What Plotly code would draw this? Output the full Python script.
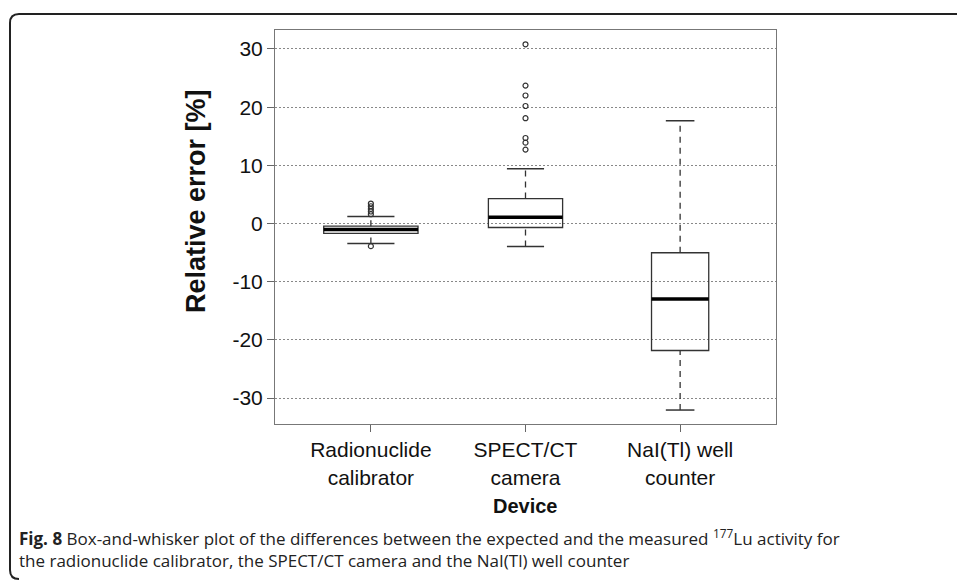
import plotly.graph_objects as go

# ---- data ----
categories = ["Radionuclide<br>calibrator", "SPECT/CT<br>camera", "NaI(Tl) well<br>counter"]
q1 = [-1.71, -0.69, -21.83]
median = [-1.03, 1.08, -12.97]
q3 = [-0.46, 4.29, -5.03]
lower_whisker = [-3.43, -3.94, -32.06]
upper_whisker = [1.20, 9.43, 17.66]
outliers_radionuclide = [3.43, 2.97, 2.51, 2.06, 1.60, -3.89]
outliers_spect = [30.8, 23.7, 22.0, 20.2, 18.1, 14.7, 13.9, 12.7]
outliers_nai = []
y_ticks = [-30, -20, -10, 0, 10, 20, 30]
y_tick_labels = ["-30", "-20", "-10", "0", "10", "20", "30"]

# ---- style ----
BOX_W = [0.61, 0.48, 0.37]   # varwidth-style box widths (x units)
LINE_C = "#333333"
W, H = 957, 581
L, R, T, B = 275, 776, 30, 424

fig = go.Figure()
outliers = [outliers_radionuclide, outliers_spect, outliers_nai]
positions = [1, 2, 3]

for i, pos in enumerate(positions):
    w = BOX_W[i]
    fig.add_trace(go.Box(
        x=[pos], q1=[q1[i]], median=[median[i]], q3=[q3[i]],
        lowerfence=[q1[i]], upperfence=[q3[i]],
        width=w, fillcolor="rgba(0,0,0,0)",
        line=dict(color=LINE_C, width=1.3), boxpoints=False,
        showlegend=False, hoverinfo="skip"))
    # dashed whiskers
    for a, b in [(q3[i], upper_whisker[i]), (lower_whisker[i], q1[i])]:
        fig.add_trace(go.Scatter(x=[pos, pos], y=[a, b], mode="lines",
                                 line=dict(color=LINE_C, width=1.3, dash="6px,5px"),
                                 showlegend=False, hoverinfo="skip"))
    # staples
    for v in [upper_whisker[i], lower_whisker[i]]:
        fig.add_trace(go.Scatter(x=[pos - w / 4, pos + w / 4], y=[v, v], mode="lines",
                                 line=dict(color=LINE_C, width=1.5),
                                 showlegend=False, hoverinfo="skip"))
    # thick median
    fig.add_trace(go.Scatter(x=[pos - w / 2, pos + w / 2], y=[median[i], median[i]],
                             mode="lines", line=dict(color="black", width=3.5),
                             showlegend=False, hoverinfo="skip"))
    # outliers
    if outliers[i]:
        fig.add_trace(go.Scatter(x=[pos] * len(outliers[i]), y=outliers[i], mode="markers",
                                 marker=dict(symbol="circle-open", size=5,
                                             color=LINE_C, line=dict(width=1.2)),
                                 showlegend=False, hoverinfo="skip"))

pw, ph = R - L, B - T
def px(x):
    return (x - L) / pw
def py(y):
    return (B - y) / ph

# outer frame with rounded left corners
r = 9
x0, y0, y1, x1 = 10, 14, 579, W + 5
path = (f"M {px(x0 + r)},{py(y1)} Q {px(x0)},{py(y1)} {px(x0)},{py(y1 - r)} "
        f"L {px(x0)},{py(y0 + r)} "
        f"Q {px(x0)},{py(y0)} {px(x0 + r)},{py(y0)} L {px(x1)},{py(y0)}")
fig.add_shape(type="path", path=path, xref="paper", yref="paper",
              line=dict(color="#222222", width=2))

fig.add_annotation(text="<b>Relative error [%]</b>", xref="paper", yref="paper",
                   x=px(196), y=py(201), xanchor="center", yanchor="middle",
                   textangle=-90, showarrow=False,
                   font=dict(family="Liberation Sans", size=27, color="#111111"))
fig.add_annotation(text="<b>Device</b>", xref="paper", yref="paper",
                   x=px(525), y=py(506), xanchor="center", yanchor="middle", showarrow=False,
                   font=dict(family="Liberation Sans", size=20, color="#111111"))
fig.add_annotation(
    text="<b>Fig. 8</b> Box-and-whisker plot of the differences between the expected and the measured "
         "<sup>177</sup>Lu activity for<br>"
         "the radionuclide calibrator, the SPECT/CT camera and the NaI(Tl) well counter",
    xref="paper", yref="paper", x=px(17), y=py(548), xanchor="left", yanchor="middle",
    align="left", showarrow=False,
    font=dict(family="Open Sans", size=17, color="#222222"))

fig.update_layout(
    width=W, height=H, margin=dict(l=L, r=W - R, t=T, b=H - B),
    paper_bgcolor="white", plot_bgcolor="white",
    font=dict(family="Liberation Sans", size=21, color="#111111"),
    xaxis=dict(range=[0.38, 3.62], tickvals=positions, ticktext=categories,
               ticks="outside", ticklen=7, tickcolor="#666666",
               showline=True, mirror=True, linecolor="#777777", linewidth=1,
               showgrid=False, zeroline=False, fixedrange=True,
               tickfont=dict(family="Liberation Sans", size=21)),
    yaxis=dict(range=[-34.46, 33.26], tickvals=y_ticks, ticktext=y_tick_labels,
               ticks="outside", ticklen=7, tickcolor="#666666",
               showline=True, mirror=True, linecolor="#777777", linewidth=1,
               showgrid=True, gridcolor="#888888", griddash="1.5px,2.5px", gridwidth=1,
               zeroline=False, fixedrange=True,
               tickfont=dict(family="Liberation Sans", size=21)),
)

fig.write_html("out.html", config={"displayModeBar": False},
               post_script="document.body.style.margin='0';")
